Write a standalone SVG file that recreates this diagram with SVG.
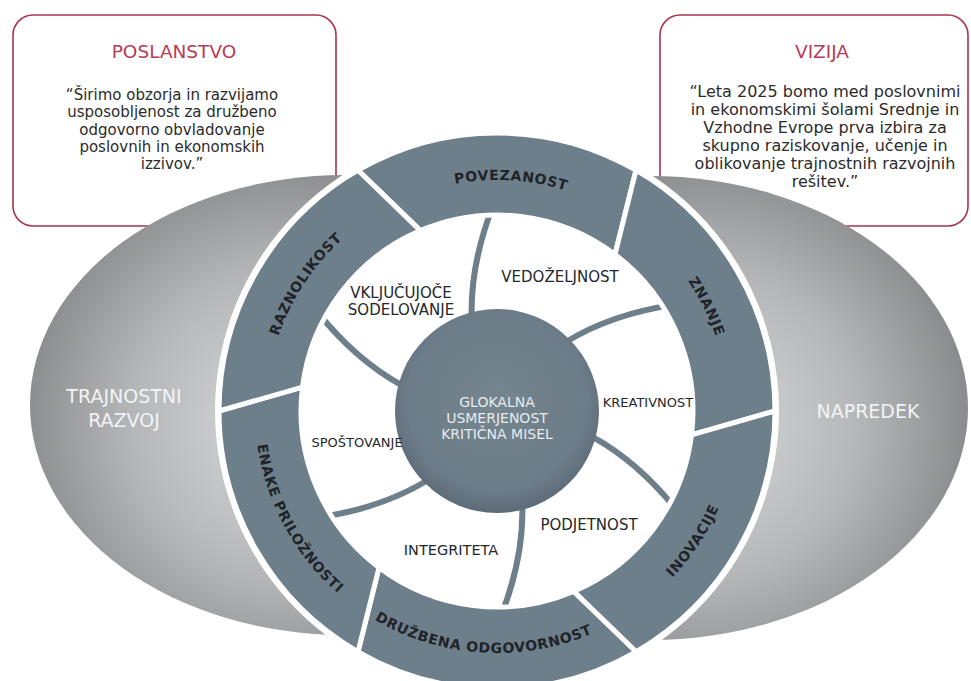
<svg xmlns="http://www.w3.org/2000/svg" width="971" height="681" viewBox="0 0 971 681">
<style>
.box{fill:#fff;stroke:#a8344e;stroke-width:1.6}
.title{font-family:"DejaVu Sans",sans-serif;font-size:18.5px;fill:#b83a56;text-anchor:middle}
.q1{font-family:"DejaVu Sans",sans-serif;font-size:15px;fill:#2b2b2b;text-anchor:middle}
.q2{font-family:"DejaVu Sans",sans-serif;font-size:16px;fill:#2b2b2b;text-anchor:middle}
.big{font-family:"DejaVu Sans",sans-serif;font-size:19px;fill:#f2f3f5;text-anchor:middle}
.seg{fill:#6e7f8c;stroke:#fff;stroke-width:5;stroke-linejoin:miter}
.segt{font-family:"DejaVu Sans",sans-serif;font-weight:bold;font-size:14px;letter-spacing:0.6px;fill:#1f2328}
.in{font-family:"DejaVu Sans",sans-serif;fill:#25282c;text-anchor:middle}
.ct{font-family:"DejaVu Sans",sans-serif;font-size:14px;fill:#e8ebee;text-anchor:middle}
.spoke{fill:none;stroke:#6e7f8c;stroke-width:6}
</style>
<defs>
<radialGradient id="gl" gradientUnits="userSpaceOnUse" cx="285" cy="425" r="275">
<stop offset="0" stop-color="#d8d9db"/>
<stop offset="0.55" stop-color="#b6b7b9"/>
<stop offset="1" stop-color="#86878a"/>
</radialGradient>
<radialGradient id="gr" gradientUnits="userSpaceOnUse" cx="705" cy="425" r="275">
<stop offset="0" stop-color="#d8d9db"/>
<stop offset="0.55" stop-color="#b6b7b9"/>
<stop offset="1" stop-color="#86878a"/>
</radialGradient>
<radialGradient id="gc" cx="0.5" cy="0.45" r="0.55">
<stop offset="0" stop-color="#76868f"/>
<stop offset="0.8" stop-color="#6c7c88"/>
<stop offset="1" stop-color="#5c6b77"/>
</radialGradient>
<path id="p-pov" d="M 343.9 238 A 231 231 0 0 1 670 257.9"/>
<path id="p-zna" d="M 570.3 191.9 A 231 231 0 0 1 716.1 484.3"/>
<path id="p-raz" d="M 270.6 457.1 A 231 231 0 0 1 450.9 184.6"/>
<path id="p-ino" d="M 545.3 648.1 A 242 242 0 0 0 734.1 362.7"/>
<path id="p-dru" d="M 315.7 571.3 A 242 242 0 0 0 657.3 592.3"/>
<path id="p-ena" d="M 265 342.3 A 242 242 0 0 0 428.3 643"/>
</defs>
<rect width="971" height="681" fill="#fff"/>

<g id="poslanstvo">
<rect class="box" x="13" y="15" width="323" height="211" rx="20"/>
<text class="title" x="174" y="58">POSLANSTVO</text>
<text class="q1" x="172" y="100">“Širimo obzorja in razvijamo</text>
<text class="q1" x="172" y="117">usposobljenost za družbeno</text>
<text class="q1" x="172" y="135">odgovorno obvladovanje</text>
<text class="q1" x="172" y="152">poslovnih in ekonomskih</text>
<text class="q1" x="172" y="169">izzivov.”</text>
</g>

<g id="vizija">
<rect class="box" x="660" y="15" width="308" height="211" rx="20"/>
<text class="title" x="822" y="58">VIZIJA</text>
<text class="q2" x="825" y="97">“Leta 2025 bomo med poslovnimi</text>
<text class="q2" x="825" y="115">in ekonomskimi šolami Srednje in</text>
<text class="q2" x="825" y="133">Vzhodne Evrope prva izbira za</text>
<text class="q2" x="825" y="151">skupno raziskovanje, učenje in</text>
<text class="q2" x="825" y="169">oblikovanje trajnostnih razvojnih</text>
<text class="q2" x="825" y="187">rešitev.”</text>
</g>

<g id="trajnostni-razvoj">
<ellipse cx="345" cy="405" rx="315" ry="230" fill="url(#gl)"/>
<text class="big" x="124" y="403">TRAJNOSTNI</text>
<text class="big" x="124" y="427">RAZVOJ</text>
</g>

<g id="napredek">
<ellipse cx="650" cy="408" rx="318" ry="232" fill="url(#gr)"/>
<text class="big" x="868" y="418">NAPREDEK</text>
</g>

<circle cx="497" cy="411" r="282" fill="#fff"/>

<g id="connectors">
<path class="spoke" d="M 471.6 316.3 Q 470.6 262.3 493.4 205"/>
<path class="spoke" d="M 566.3 341.7 Q 612.6 313.8 673.6 304.9"/>
<path class="spoke" d="M 591.7 436.4 Q 639 462.5 677.2 510.9"/>
<path class="spoke" d="M 522.4 505.7 Q 523.4 559.7 500.6 617"/>
<path class="spoke" d="M 427.7 480.3 Q 381.4 508.2 320.4 517.1"/>
<path class="spoke" d="M 402.3 385.6 Q 355.1 359.5 316.8 311.1"/>
</g>

<g id="povezanost">
<path class="seg" d="M 358 170.2 A 278 278 0 0 1 636 170.2 L 615 254.5 A 196 196 0 0 0 420.4 230.6 Z"/>
<text class="segt"><textPath href="#p-pov" startOffset="50%" text-anchor="middle">POVEZANOST</textPath></text>
</g>
<g id="znanje">
<path class="seg" d="M 636 170.2 A 278 278 0 0 1 775 411 L 691.5 434.9 A 196 196 0 0 0 615 254.5 Z"/>
<text class="segt"><textPath href="#p-zna" startOffset="50%" text-anchor="middle">ZNANJE</textPath></text>
</g>
<g id="inovacije">
<path class="seg" d="M 775 411 A 278 278 0 0 1 636 651.8 L 573.6 591.4 A 196 196 0 0 0 691.5 434.9 Z"/>
<text class="segt"><textPath href="#p-ino" startOffset="50%" text-anchor="middle">INOVACIJE</textPath></text>
</g>
<g id="druzbena-odgovornost">
<path class="seg" d="M 636 651.8 A 278 278 0 0 1 358 651.8 L 379 567.5 A 196 196 0 0 0 573.6 591.4 Z"/>
<text class="segt"><textPath href="#p-dru" startOffset="50%" text-anchor="middle">DRUŽBENA ODGOVORNOST</textPath></text>
</g>
<g id="enake-priloznosti">
<path class="seg" d="M 358 651.8 A 278 278 0 0 1 219 411 L 302.5 387.1 A 196 196 0 0 0 379 567.5 Z"/>
<text class="segt"><textPath href="#p-ena" startOffset="50%" text-anchor="middle">ENAKE PRILOŽNOSTI</textPath></text>
</g>
<g id="raznolikost">
<path class="seg" d="M 219 411 A 278 278 0 0 1 358 170.2 L 420.4 230.6 A 196 196 0 0 0 302.5 387.1 Z"/>
<text class="segt"><textPath href="#p-raz" startOffset="50%" text-anchor="middle">RAZNOLIKOST</textPath></text>
</g>

<g id="center">
<circle cx="497" cy="411" r="102" fill="url(#gc)"/>
<text class="ct" x="497" y="407">GLOKALNA</text>
<text class="ct" x="497" y="423">USMERJENOST</text>
<text class="ct" x="497" y="439">KRITIČNA MISEL</text>
</g>

<g id="vkljucujoce-sodelovanje">
<text class="in" x="401" y="298" font-size="15">VKLJUČUJOČE</text>
<text class="in" x="401" y="315" font-size="15">SODELOVANJE</text>
</g>
<g id="vedozeljnost"><text class="in" x="560" y="282" font-size="15">VEDOŽELJNOST</text></g>
<g id="kreativnost"><text class="in" x="648" y="407" font-size="13">KREATIVNOST</text></g>
<g id="spostovanje"><text class="in" x="357" y="447" font-size="13">SPOŠTOVANJE</text></g>
<g id="integriteta"><text class="in" x="451" y="555" font-size="14.5">INTEGRITETA</text></g>
<g id="podjetnost"><text class="in" x="589" y="530" font-size="15">PODJETNOST</text></g>
</svg>
